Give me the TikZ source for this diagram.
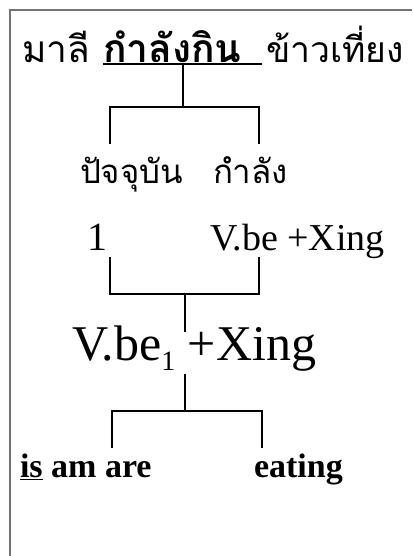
\documentclass[tikz,border=0pt]{standalone}
\usepackage{fontspec}
\setmainfont{Liberation Serif}
\newfontfamily\thaifont[Script=Thai]{Loma}
\begin{document}
\begin{tikzpicture}[x=1pt,y=-1pt,
  txt/.style={inner sep=0pt,outer sep=0pt,anchor=base west},
  thaitxt/.style={txt,font=\thaifont\fontsize{37}{37}\selectfont},
  thaisub/.style={txt,font=\thaifont\fontsize{33}{33}\selectfont},
  romtxt/.style={txt,font=\fontsize{38}{38}\selectfont},
  boldtxt/.style={txt,font=\bfseries\fontsize{34}{34}\selectfont},
  tree/.style={line width=1.5pt,black},
  frame/.style={line width=1.3pt,black!55}]
\useasboundingbox (0,0) rectangle (412,556);
% frame
\coordinate (fbl) at (10,556);
\coordinate (ftl) at (10,10);
\coordinate (ftr) at (412,10);
\draw[frame] (fbl) -- (ftl) -- (ftr);
% title
\node[thaitxt] (t1) at (22,63) {มาลี};
\node[thaitxt,font=\thaifont\bfseries\fontsize{39}{39}\selectfont] (t2) at (103,63) {กำลังกิน};
\node[thaitxt,font=\thaifont\fontsize{35.5}{35.5}\selectfont] (t3) at (266,63) {ข้าวเที่ยง};
\coordinate (ul1) at (103,64);
\coordinate (ul2) at (262,64);
\draw[line width=1.3pt] (ul1) -- (ul2);
% level 1
\node[thaisub] (p1) at (80,183) {ปัจจุบัน};
\node[thaisub] (p2) at (213,183) {กำลัง};
\coordinate (a0) at (183,65);
\coordinate (a1) at (183,107);
\coordinate (a2) at (110,107);
\coordinate (a3) at (259,107);
\coordinate (a4) at (110,144);
\coordinate (a5) at (259,144);
\draw[tree] (a0) -- (a1);
\draw[tree] (a4) -- (a2) -- (a3) -- (a5);
% level 2
\node[romtxt,font=\fontsize{40}{40}\selectfont] (n1) at (87,250) {1};
\node[romtxt] (v1) at (210,250) {V.be +Xing};
\coordinate (b1) at (110,257);
\coordinate (b2) at (110,294);
\coordinate (b3) at (259,294);
\coordinate (b4) at (259,257);
\coordinate (b5) at (185,294);
\coordinate (b6) at (185,332);
\draw[tree] (b1) -- (b2) -- (b3) -- (b4);
\draw[tree] (b5) -- (b6);
% level 3
\node[romtxt,font=\fontsize{50}{50}\selectfont] (v2) at (72,360) {V.be\raisebox{-10pt}{\fontsize{28}{28}\selectfont 1} +Xing};
\coordinate (c0) at (185,374);
\coordinate (c1) at (185,411);
\coordinate (c2) at (112,411);
\coordinate (c3) at (262,411);
\coordinate (c4) at (112,448);
\coordinate (c5) at (262,448);
\draw[tree] (c0) -- (c1);
\draw[tree] (c4) -- (c2) -- (c3) -- (c5);
% level 4
\node[boldtxt] (d1) at (20,477) {\underline{is} am are};
\node[boldtxt] (d2) at (254,477) {eating};
\end{tikzpicture}
\end{document}
